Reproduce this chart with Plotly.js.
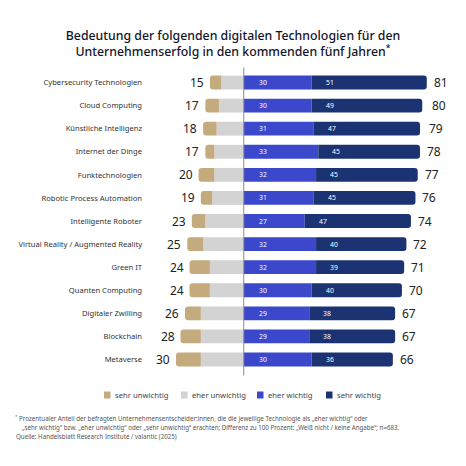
<!DOCTYPE html>
<html><head><meta charset="utf-8">
<script src="https://cdn.plot.ly/plotly-3.0.1.min.js"></script>
<style>html,body{margin:0;padding:0;background:#fff}#c{width:466px;height:466px}</style>
</head><body><div id="c"></div>
<script>
const categories = ["Cybersecurity Technologien","Cloud Computing","Künstliche Intelligenz","Internet der Dinge","Funktechnologien","Robotic Process Automation","Intelligente Roboter","Virtual Reality / Augmented Reality","Green IT","Quanten Computing","Digitaler Zwilling","Blockchain","Metaverse"];
const sehrUnwichtig = [5,6,6,4,7,5,6,7,9,9,7,9,11];
const eherUnwichtig = [10,11,12,13,13,14,17,18,15,15,19,19,19];
const totalUnwichtig = [15,17,18,17,20,19,23,25,24,24,26,28,30];
const eherWichtig = [30,30,31,33,32,31,27,32,32,30,29,29,30];
const sehrWichtig = [51,49,47,45,45,45,47,40,39,40,38,38,36];
const totalWichtig = [81,80,79,78,77,76,74,72,71,70,67,67,66];
const seriesNames = ["sehr unwichtig","eher unwichtig","eher wichtig","sehr wichtig"];
const colors = ["#C4AB7E","#D3D3D3","#3B48CC","#1B3372"];

const FONT = "'Noto Sans', 'Open Sans', sans-serif";
const neg = a => a.map(v => -v);

const traces = [
  {type:"bar", orientation:"h", name:seriesNames[1], y:categories, x:neg(eherUnwichtig), marker:{color:colors[1]}},
  {type:"bar", orientation:"h", name:seriesNames[0], y:categories, x:neg(sehrUnwichtig), marker:{color:colors[0]}},
  {type:"bar", orientation:"h", name:seriesNames[2], y:categories, x:eherWichtig, marker:{color:colors[2]}},
  {type:"bar", orientation:"h", name:seriesNames[3], y:categories, x:sehrWichtig, marker:{color:colors[3]}}
].map(t => Object.assign(t, {width:0.6, hoverinfo:"skip"}));

const L = 143, R = 18, T = 71, B = 95, W = 466, H = 466;
const pw = W - L - R, ph = H - T - B;
const px = v => (v - L) / pw, py = v => (H - B - v) / ph;
const ann = [];
categories.forEach((c,i) => {
  ann.push({x:-totalUnwichtig[i], y:c, xref:"x", yref:"y", text:String(totalUnwichtig[i]), showarrow:false, xanchor:"right", xshift:-4, font:{family:FONT,size:12,color:"#222"}});
  ann.push({x:totalWichtig[i], y:c, xref:"x", yref:"y", text:String(totalWichtig[i]), showarrow:false, xanchor:"left", xshift:5, font:{family:FONT,size:12,color:"#222"}});
  ann.push({x:0, y:c, xref:"x", yref:"y", text:String(eherWichtig[i]), showarrow:false, xanchor:"left", xshift:13, font:{family:FONT,size:6.8,color:"#ffffff"}});
  ann.push({x:eherWichtig[i], y:c, xref:"x", yref:"y", text:String(sehrWichtig[i]), showarrow:false, xanchor:"left", xshift:12, font:{family:FONT,size:6.8,color:"#ffffff"}});
});
const foot = [
  ["<sup>*</sup> Prozentualer Anteil der befragten Unternehmensentscheider:innen, die die jeweilige Technologie als „eher wichtig“ oder", 13, 418],
  ["„sehr wichtig“ bzw. „eher unwichtig“ oder „sehr unwichtig“ erachten; Differenz zu 100 Prozent: „Weiß nicht / keine Angabe“; n=683.", 20, 427],
  ["Quelle: Handelsblatt Research Institute / valantic (2025)", 14, 436]
];
foot.forEach(f => ann.push({xref:"paper", yref:"paper", x:px(f[1]), y:py(f[2]), xanchor:"left", yanchor:"middle", showarrow:false, align:"left", text:f[0], font:{family:FONT,size:6.2,color:"#555"}}));

// legend (manual, in page pixels converted to paper)
const legendX = [104, 181, 257, 326];
const legendY = 395;
const shapes = [{type:"line", xref:"x", yref:"paper", x0:0, x1:0, y0:-0.015, y1:1.012, line:{color:"#8a8a9a", width:1}}];
seriesNames.forEach((n,i) => {
  shapes.push({type:"rect", xref:"paper", yref:"paper", x0:px(legendX[i]), x1:px(legendX[i]+6.5), y0:py(legendY+3.5), y1:py(legendY-3.5), fillcolor:colors[i], line:{width:0}});
  ann.push({xref:"paper", yref:"paper", x:px(legendX[i]+8.5), y:py(legendY), xanchor:"left", yanchor:"middle", showarrow:false, text:n, font:{family:FONT,size:7.7,color:"#444"}});
});

const layout = {
  width:W, height:H,
  margin:{l:L, r:R, t:T, b:B},
  paper_bgcolor:"#fff", plot_bgcolor:"#fff",
  barmode:"relative", barcornerradius:3,
  title:{text:"Bedeutung der folgenden digitalen Technologien für den<br>Unternehmenserfolg in den kommenden fünf Jahren<sup>*</sup>", xref:"container", yref:"container", x:233/466, xanchor:"center", y:1-40/466, yanchor:"middle", font:{family:FONT,size:12.3,color:"#15152a", weight:500}},
  xaxis:{range:[-44.6,90.4], showgrid:false, zeroline:false, showticklabels:false, showline:false, fixedrange:true},
  yaxis:{autorange:"reversed", showgrid:false, zeroline:false, showline:false, ticks:"", tickfont:{family:FONT,size:7.6,color:"#333"}, fixedrange:true},
  showlegend:false,
  shapes:shapes,
  annotations:ann
};
Plotly.newPlot("c", traces, layout, {displayModeBar:false, staticPlot:true});
</script></body></html>
